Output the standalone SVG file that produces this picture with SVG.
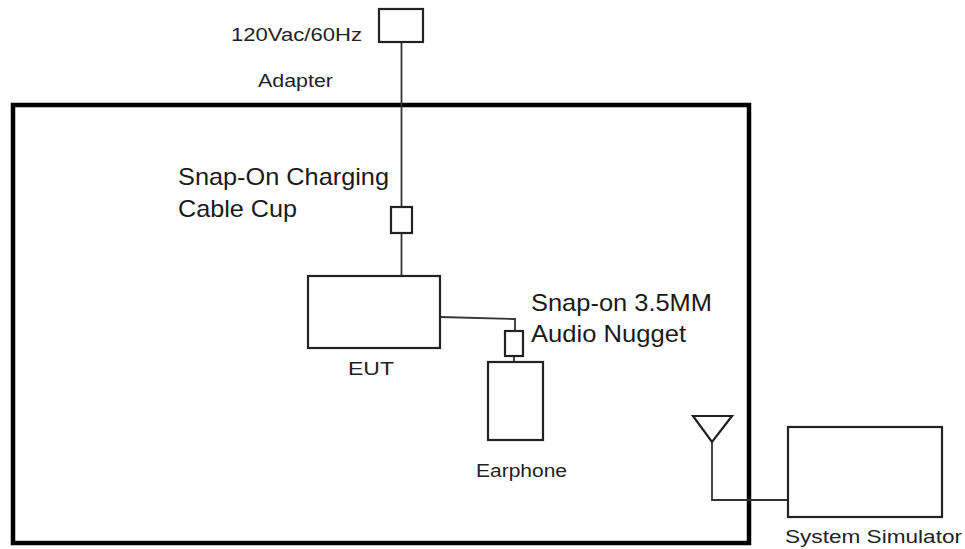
<svg xmlns="http://www.w3.org/2000/svg" width="965" height="549" viewBox="0 0 965 549">
<style>
.box{fill:none;stroke:#222;stroke-width:2.2}
.wire{fill:none;stroke:#333;stroke-width:1.8}
.big{font-family:"Liberation Sans",Arial,sans-serif;font-size:24px;fill:#1a1a1a}
.small{font-family:"Liberation Sans",Arial,sans-serif;font-size:17.5px;fill:#222}
</style>
<rect width="965" height="549" fill="#fff"/>
<g id="room"><rect x="13" y="105" width="736" height="438" fill="none" stroke="#000" stroke-width="4.5"/></g>
<g id="connectors">
<line class="wire" x1="401.5" y1="42" x2="401.5" y2="207"/>
<line class="wire" x1="401.5" y1="233" x2="401.5" y2="276"/>
<polyline class="wire" points="440,317 515,319 515,331"/>
<line class="wire" x1="514" y1="356" x2="514" y2="362"/>
<polyline class="wire" points="712,442 712,500 788,500"/>
</g>
<g id="adapter">
<rect class="box" x="379" y="9" width="44" height="33"/>
<text class="small" x="231" y="41" textLength="131" lengthAdjust="spacingAndGlyphs">120Vac/60Hz</text>
<text class="small" x="258" y="87" textLength="75" lengthAdjust="spacingAndGlyphs">Adapter</text>
</g>
<g id="charging-cup">
<rect class="box" x="391" y="207" width="21" height="26"/>
<text class="big" x="178" y="185" textLength="211" lengthAdjust="spacingAndGlyphs">Snap-On Charging</text>
<text class="big" x="178" y="217" textLength="119" lengthAdjust="spacingAndGlyphs">Cable Cup</text>
</g>
<g id="eut">
<rect class="box" x="308" y="276" width="132" height="72"/>
<text class="small" x="348" y="375" textLength="46" lengthAdjust="spacingAndGlyphs">EUT</text>
</g>
<g id="audio-nugget">
<rect class="box" x="505" y="331" width="18" height="25"/>
<text class="big" x="531" y="311" textLength="181" lengthAdjust="spacingAndGlyphs">Snap-on 3.5MM</text>
<text class="big" x="531" y="342" textLength="155" lengthAdjust="spacingAndGlyphs">Audio Nugget</text>
</g>
<g id="earphone">
<rect class="box" x="488" y="362" width="55" height="78"/>
<text class="small" x="476" y="477" textLength="91" lengthAdjust="spacingAndGlyphs">Earphone</text>
</g>
<g id="antenna">
<polygon class="box" points="693,416 732,416 712,442"/>
</g>
<g id="system-simulator">
<rect class="box" x="788" y="427" width="154" height="90"/>
<text class="small" x="785" y="543" textLength="177" lengthAdjust="spacingAndGlyphs">System Simulator</text>
</g>
</svg>
